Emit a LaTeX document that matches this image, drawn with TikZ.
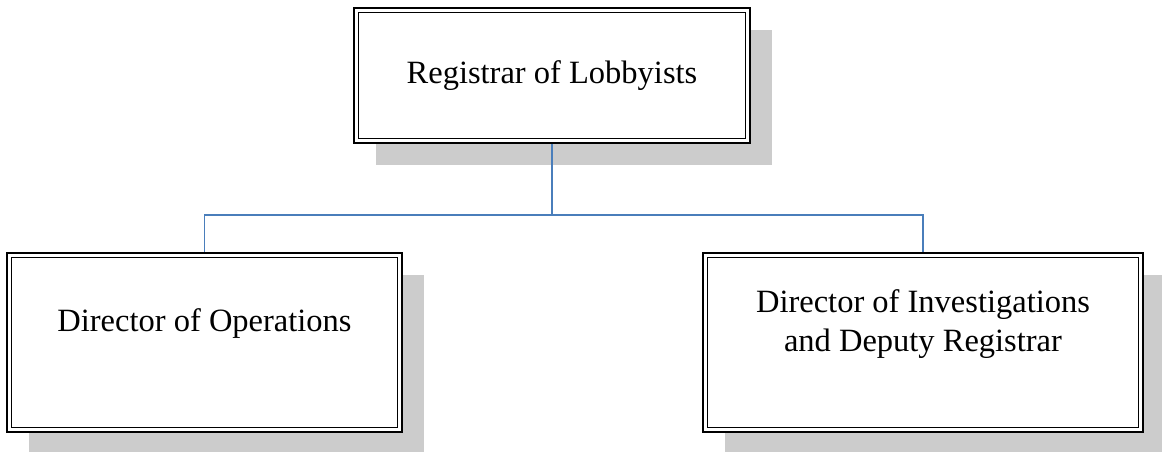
\documentclass[tikz,border=0pt]{standalone}
\usepackage{fontspec}
\setmainfont{Liberation Serif}
\usetikzlibrary{shadows}
\definecolor{linkblue}{HTML}{4A7EBB}
\begin{document}
\begin{tikzpicture}[x=1pt, y=1pt,
        post/.style={rectangle, draw, line width=2pt, fill=white, inner sep=0pt, align=center,
            font=\fontsize{32.5}{38.5}\selectfont,
            drop shadow={shadow xshift=22pt, shadow yshift=-22pt, fill=black!20, opacity=1},
            path picture={\draw[line width=1.2pt] ([shift={(4.5pt,4.5pt)}]path picture bounding box.south west) rectangle ([shift={(-4.5pt,-4.5pt)}]path picture bounding box.north east);}},
        lower/.style={post, minimum height=179pt, text depth=44pt},
        link/.style={draw=linkblue, line width=1.7pt}
    ]
        \useasboundingbox (0,0) rectangle (1162,451);

        \node[post, minimum width=396pt, minimum height=135pt] (reg) at (552,375.5) {Registrar of Lobbyists};
        \node[lower, minimum width=395pt] (ops) at (204.5,108.5) {Director of Operations};
        \node[lower, minimum width=440pt] (inv) at (923,108.5) {Director of Investigations\\
        and Deputy Registrar};

        \coordinate (bus) at (552,236);
        \draw[link] (reg.south) -- (bus) -| (ops.north);
        \draw[link] (bus) -| (inv.north);
    \end{tikzpicture}
\end{document}
